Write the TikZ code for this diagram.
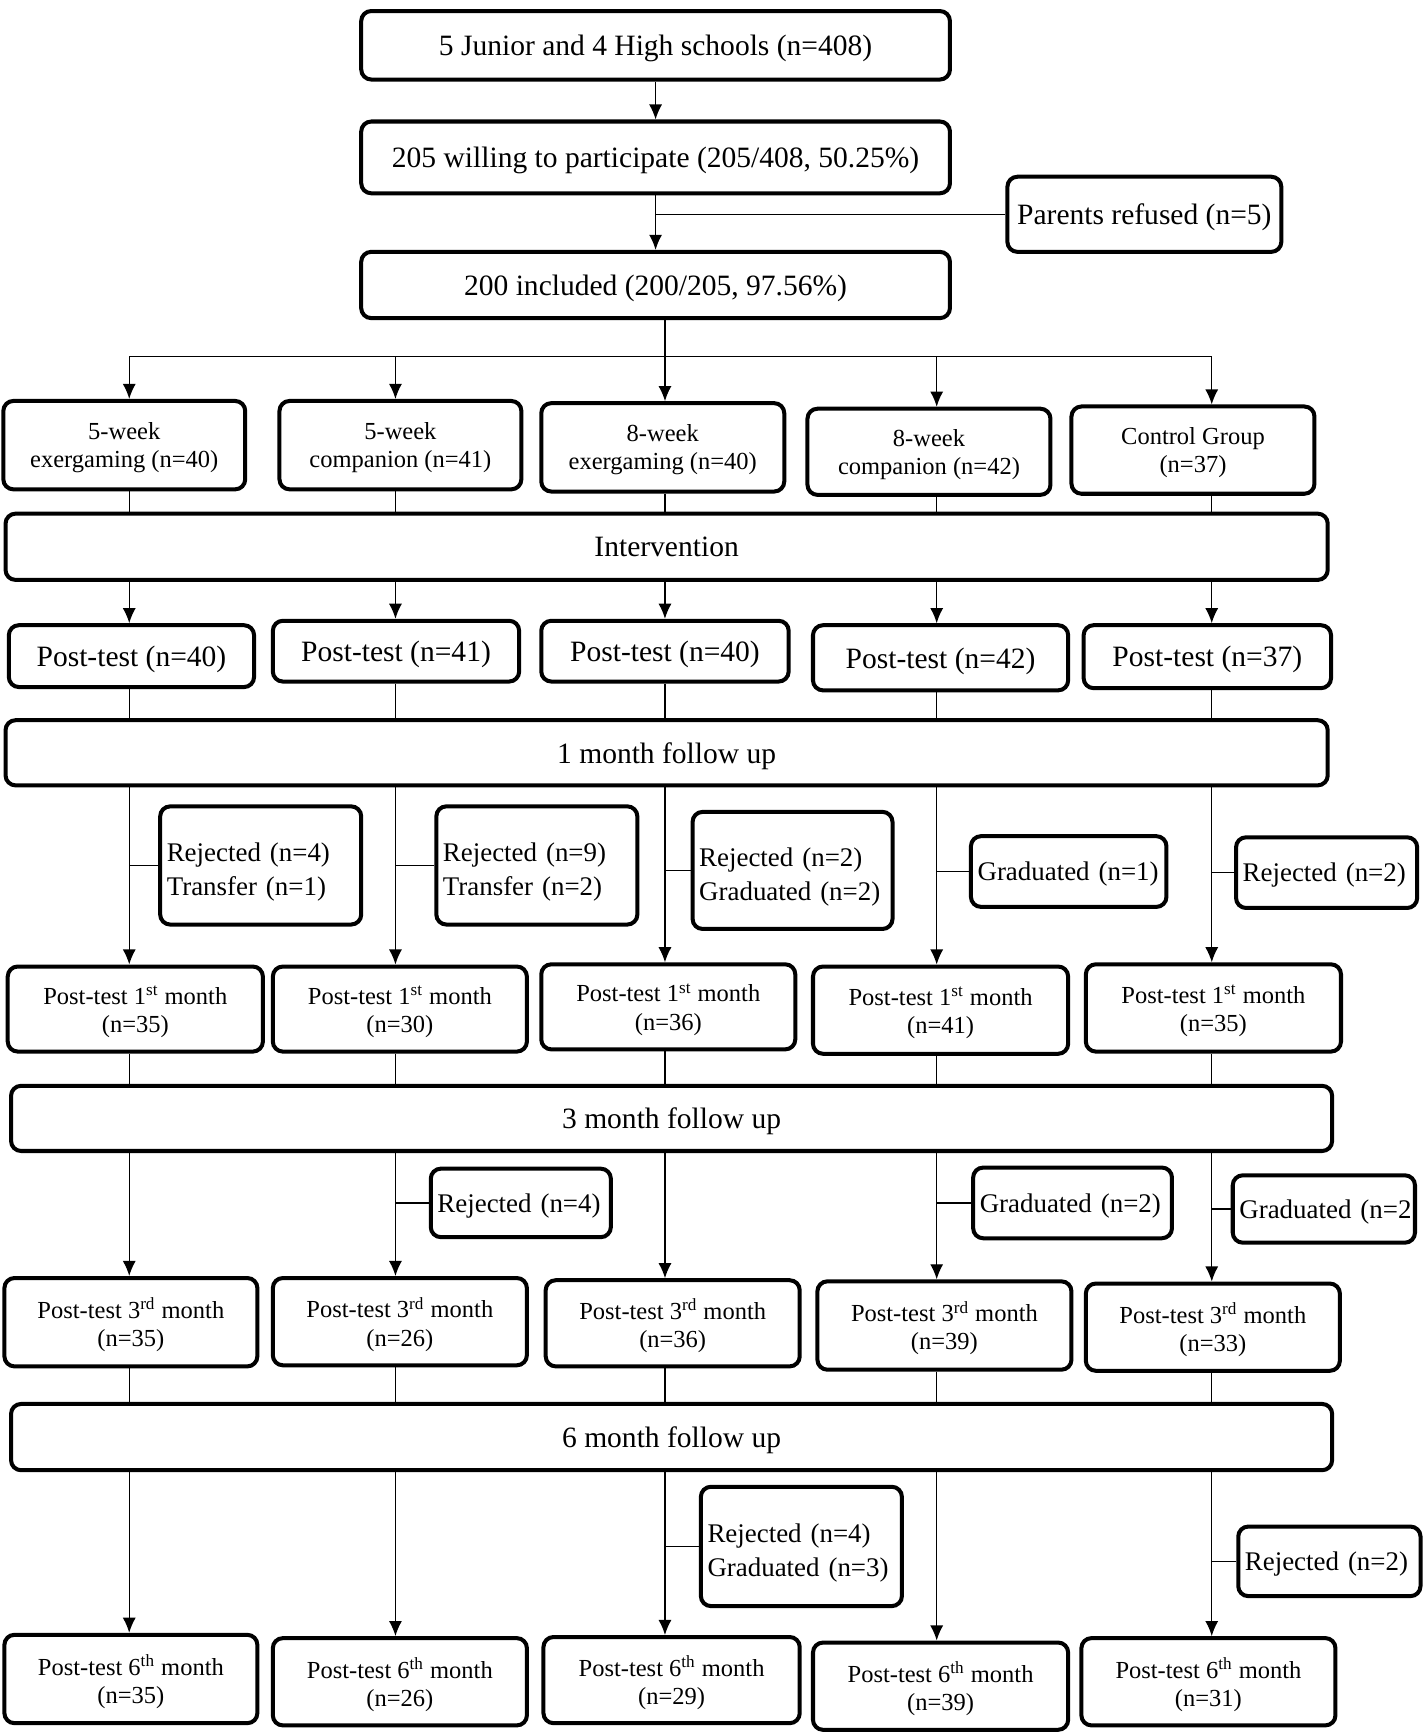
\documentclass[tikz,border=0pt]{standalone}
\usepackage{fontspec}
\setmainfont{Liberation Serif}
\usetikzlibrary{arrows.meta}

\newcommand{\bigsize}{\fontsize{14.7}{17}\selectfont}
\newcommand{\smallsize}{\fontsize{12.2}{14}\selectfont}
\newcommand{\sidesize}{\fontsize{13.4}{17}\selectfont}

\begin{document}
\begin{tikzpicture}[x=0.55pt, y=-0.55pt,
    >={Latex[length=7.5pt,width=6.5pt]},
    box/.style={draw, line width=2pt, rounded corners=5pt, align=center, inner sep=1pt},
    sz/.style 2 args={minimum width=#1*0.55pt, minimum height=#2*0.55pt},
    sidesz/.style 2 args={text width=(#1-12)*0.55pt, minimum height=#2*0.55pt},
    bigbox/.style={box, font=\bigsize, text depth=0pt},
    smallbox/.style={box, font=\smallsize, text depth=-2pt},
    sidebox/.style={box, align=left, inner xsep=6*0.55pt, font=\sidesize, text depth=-1.5pt},
    twolines/.style={text depth=13.5pt},
    link/.style={line width=0.7pt}]
    \useasboundingbox (0,0) rectangle (1289,1568);
    % the five columns
    \coordinate (c1) at (117,0);
    \coordinate (c2) at (358,0);
    \coordinate (c3) at (602,0);
    \coordinate (c4) at (848,0);
    \coordinate (c5) at (1097,0);
    \coordinate (split) at (602,323);
    % enrolment
    \node[bigbox, sz={533}{62}] (top) at (593.5,41) {5 Junior and 4 High schools (n=408)};
    \node[bigbox, sz={533}{65}] (will) at (593.5,142.5) {205 willing to participate (205/408, 50.25\%)};
    \node[bigbox, sz={248}{68}] (ref) at (1036,194) {Parents refused (n=5)};
    \node[bigbox, sz={533}{60}] (inc) at (593.5,258) {200 included (200/205, 97.56\%)};
    % the groups
    \node[smallbox, sz={219}{80}] (g1) at (112.5,403) {5-week\\exergaming (n=40)};
    \node[smallbox, sz={219}{80}] (g2) at (362.5,403) {5-week\\companion (n=41)};
    \node[smallbox, sz={220}{80}] (g3) at (600,405) {8-week\\exergaming (n=40)};
    \node[smallbox, sz={220}{78}] (g4) at (841,409) {8-week\\companion (n=42)};
    \node[smallbox, sz={220}{79}] (g5) at (1080,407.5) {Control Group\\(n=37)};
    \node[bigbox, sz={1197}{60}] (int) at (603.5,495) {Intervention};
    % post-test
    \node[bigbox, sz={222}{56}] (p1) at (119,594) {Post-test (n=40)};
    \node[bigbox, sz={223}{55}] (p2) at (358.5,589.5) {Post-test (n=41)};
    \node[bigbox, sz={224}{55}] (p3) at (602,589.5) {Post-test (n=40)};
    \node[bigbox, sz={231}{59}] (p4) at (851.5,595.5) {Post-test (n=42)};
    \node[bigbox, sz={224}{57}] (p5) at (1093,594.5) {Post-test (n=37)};
    \node[bigbox, sz={1197}{59}] (f1) at (603.5,681.5) {1 month follow up};
    % losses after the 1st month
    \node[sidebox, twolines, sidesz={182}{107}] (s1) at (236,783.5) {Rejected (n=4)\\Transfer (n=1)};
    \node[sidebox, twolines, sidesz={182}{107}] (s2) at (486,783.5) {Rejected (n=9)\\Transfer (n=2)};
    \node[sidebox, twolines, sidesz={181}{106}] (s3) at (717.5,788) {Rejected (n=2)\\Graduated (n=2)};
    \node[sidebox, sidesz={177}{64}] (s4) at (967.5,789) {Graduated (n=1)};
    \node[sidebox, sidesz={164}{64}] (s5) at (1201,790) {Rejected (n=2)};
    \node[smallbox, sz={231}{77}] (m1) at (122.5,913.5) {Post-test 1\textsuperscript{st} month\\(n=35)};
    \node[smallbox, sz={230}{77}] (m2) at (362,913.5) {Post-test 1\textsuperscript{st} month\\(n=30)};
    \node[smallbox, sz={230}{77}] (m3) at (605,911.5) {Post-test 1\textsuperscript{st} month\\(n=36)};
    \node[smallbox, sz={231}{79}] (m4) at (851.5,914.5) {Post-test 1\textsuperscript{st} month\\(n=41)};
    \node[smallbox, sz={231}{79}] (m5) at (1098.5,912.5) {Post-test 1\textsuperscript{st} month\\(n=35)};
    \node[bigbox, sz={1196}{59}] (f3) at (608,1012.5) {3 month follow up};
    % losses after the 3rd month
    \node[sidebox, sidesz={163}{62}] (r2) at (471.5,1089) {Rejected (n=4)};
    \node[sidebox, sidesz={180}{64}] (r4) at (971,1089) {Graduated (n=2)};
    \node[sidebox, sidesz={165}{61}] (r5) at (1198.5,1094.5) {\mbox{Graduated (n=2}};
    \node[smallbox, sz={229}{80}] (t1) at (118.5,1197) {Post-test 3\textsuperscript{rd} month\\(n=35)};
    \node[smallbox, sz={230}{79}] (t2) at (362,1196.5) {Post-test 3\textsuperscript{rd} month\\(n=26)};
    \node[smallbox, sz={230}{78}] (t3) at (609,1198) {Post-test 3\textsuperscript{rd} month\\(n=36)};
    \node[smallbox, sz={230}{80}] (t4) at (855,1200) {Post-test 3\textsuperscript{rd} month\\(n=39)};
    \node[smallbox, sz={230}{79}] (t5) at (1098,1201.5) {Post-test 3\textsuperscript{rd} month\\(n=33)};
    \node[bigbox, sz={1196}{60}] (f6) at (608,1301) {6 month follow up};
    % losses after the 6th month
    \node[sidebox, twolines, sidesz={182}{108}] (u3) at (725.5,1400) {Rejected (n=4)\\Graduated (n=3)};
    \node[sidebox, sidesz={165}{63}] (u5) at (1203.5,1413.5) {Rejected (n=2)};
    \node[smallbox, sz={229}{80}] (x1) at (118.5,1520) {Post-test 6\textsuperscript{th} month\\(n=35)};
    \node[smallbox, sz={230}{79}] (x2) at (362,1522.5) {Post-test 6\textsuperscript{th} month\\(n=26)};
    \node[smallbox, sz={232}{78}] (x3) at (608,1521) {Post-test 6\textsuperscript{th} month\\(n=29)};
    \node[smallbox, sz={231}{79}] (x4) at (851.5,1526.5) {Post-test 6\textsuperscript{th} month\\(n=39)};
    \node[smallbox, sz={230}{79}] (x5) at (1094,1522.5) {Post-test 6\textsuperscript{th} month\\(n=31)};
    % draw the arrows
    \draw[link,->] (top) -- (will);
    \draw[link,->] (will) -- (inc);
    \draw[link] (ref.west) -- (ref.west -| will.south);
    \draw[link,->] (inc.south -| c3) -- (g3.north -| c3);
    \draw[link] (split -| c1) -- (split -| c5);
    \foreach \i in {1,2,4,5}
        \draw[link,->] (split -| c\i) -- (g\i.north -| c\i);
    \foreach \i in {1,...,5} {
        \draw[link] (g\i.south -| c\i) -- (int.north -| c\i);
        \draw[link,->] (int.south -| c\i) -- (p\i.north -| c\i);
        \draw[link] (p\i.south -| c\i) -- (f1.north -| c\i);
        \draw[link,->] (f1.south -| c\i) -- (m\i.north -| c\i);
        \draw[link] (s\i.west) -- (s\i.west -| c\i);
        \draw[link] (m\i.south -| c\i) -- (f3.north -| c\i);
        \draw[link,->] (f3.south -| c\i) -- (t\i.north -| c\i);
        \draw[link] (t\i.south -| c\i) -- (f6.north -| c\i);
        \draw[link,->] (f6.south -| c\i) -- (x\i.north -| c\i);
    }
    \foreach \i in {2,4,5}
        \draw[link] (r\i.west) -- (r\i.west -| c\i);
    \foreach \i in {3,5}
        \draw[link] (u\i.west) -- (u\i.west -| c\i);
\end{tikzpicture}
\end{document}
